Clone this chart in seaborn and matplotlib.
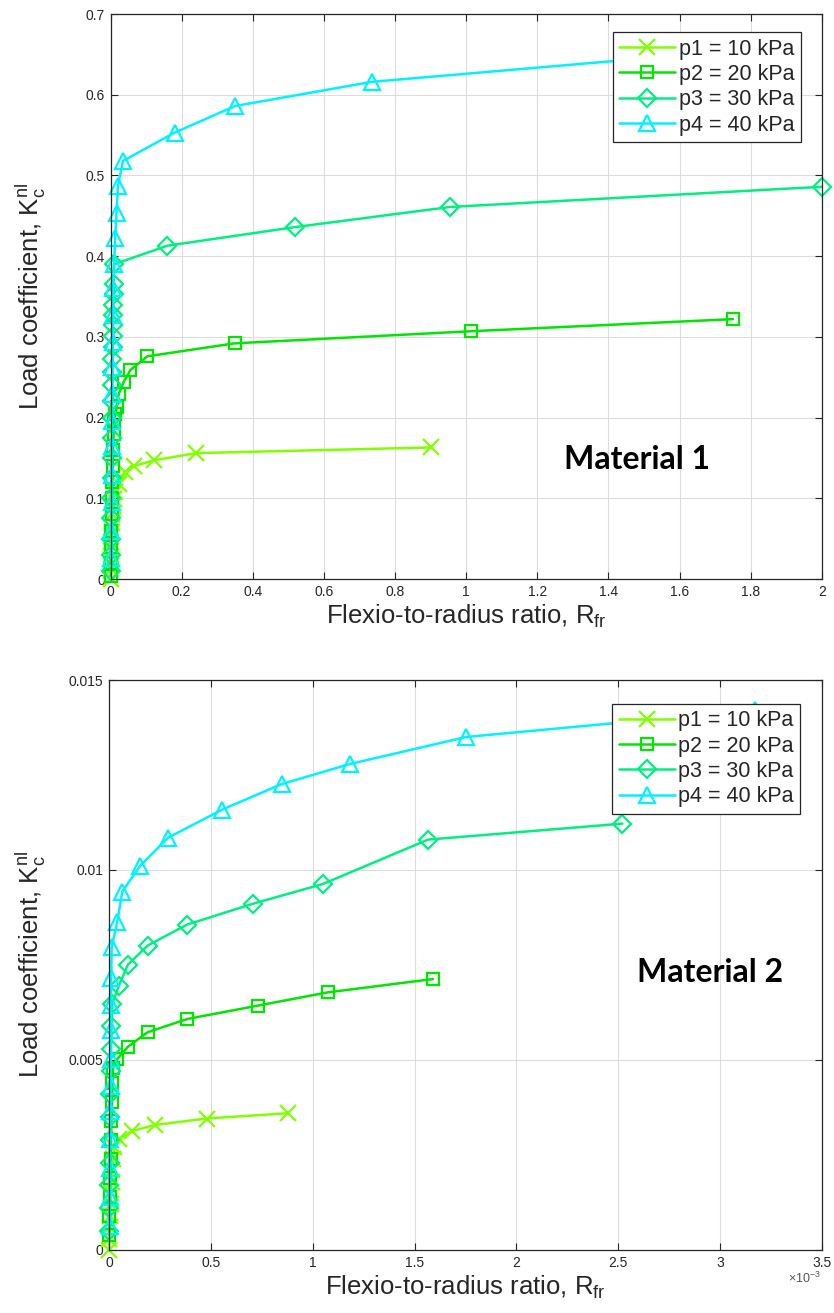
import matplotlib
matplotlib.use("Agg")
import matplotlib.pyplot as plt
import seaborn as sns
from matplotlib.ticker import FuncFormatter

sns.set_theme(style="whitegrid")
plt.rcParams["font.family"] = ["Liberation Sans", "DejaVu Sans"]
plt.rcParams["mathtext.fontset"] = "custom"
plt.rcParams["mathtext.rm"] = "Liberation Sans"
plt.rcParams["mathtext.it"] = "Liberation Sans"

labels = ["p1 = 10 kPa", "p2 = 20 kPa", "p3 = 30 kPa", "p4 = 40 kPa"]
colors = ["#80FF00", "#00E600", "#00F080", "#00F2FF"]
markers = ["x", "s", "D", "^"]

# ---- Material 1 ----
m1_p1_x = [0.0, 0.0005, 0.001, 0.0015, 0.002, 0.003, 0.004, 0.005, 0.007, 0.009, 0.013,
           0.024, 0.042, 0.066, 0.121, 0.240, 0.900]
m1_p1_y = [0.0, 0.012, 0.023, 0.035, 0.046, 0.058, 0.069, 0.080, 0.090, 0.099, 0.108,
           0.118, 0.132, 0.140, 0.147, 0.156, 0.163]
m1_p2_x = [0.001, 0.0015, 0.002, 0.0025, 0.003, 0.004, 0.005, 0.006, 0.007, 0.009, 0.011, 0.014,
           0.017, 0.023, 0.037, 0.056, 0.104, 0.349, 1.013, 1.750]
m1_p2_y = [0.004, 0.020, 0.040, 0.060, 0.080, 0.100, 0.120, 0.140, 0.160, 0.180, 0.197, 0.205,
           0.213, 0.229, 0.244, 0.259, 0.276, 0.292, 0.307, 0.322]
m1_p3_x = [0.001, 0.0013, 0.0016, 0.002, 0.0024, 0.0028, 0.0032, 0.0036, 0.004, 0.0044, 0.0048,
           0.0052, 0.0056, 0.006, 0.0065, 0.007, 0.0075, 0.008, 0.0085, 0.009, 0.010,
           0.160, 0.518, 0.955, 2.000]
m1_p3_y = [0.010, 0.030, 0.050, 0.075, 0.100, 0.125, 0.150, 0.175, 0.200, 0.220, 0.240,
           0.256, 0.272, 0.287, 0.301, 0.315, 0.327, 0.339, 0.353, 0.366, 0.390,
           0.413, 0.436, 0.461, 0.486]
m1_p4_x = [0.002, 0.0025, 0.003, 0.0035, 0.004, 0.0045, 0.005, 0.0055, 0.006, 0.007, 0.008,
           0.010, 0.013, 0.017, 0.021, 0.035, 0.180, 0.350, 0.735, 1.500]
m1_p4_y = [0.026, 0.060, 0.096, 0.129, 0.165, 0.196, 0.229, 0.263, 0.294, 0.327, 0.361,
           0.390, 0.422, 0.454, 0.487, 0.518, 0.553, 0.586, 0.616, 0.645]

# ---- Material 2 (x in units of 1e-3) ----
m2_p1_x = [0.0, 0.002, 0.004, 0.006, 0.008, 0.010, 0.013, 0.016, 0.020, 0.025,
           0.048, 0.113, 0.226, 0.480, 0.880]
m2_p1_y = [0.0, 0.0003, 0.0006, 0.0009, 0.0012, 0.0015, 0.0018, 0.0021, 0.0024, 0.0027,
           0.00291, 0.00313, 0.00329, 0.00346, 0.00360]
m2_p2_x = [0.0, 0.002, 0.004, 0.006, 0.008, 0.010, 0.012, 0.014, 0.017, 0.020,
           0.041, 0.093, 0.189, 0.385, 0.730, 1.074, 1.590]
m2_p2_y = [0.0004, 0.0009, 0.0014, 0.0019, 0.0024, 0.0029, 0.0034, 0.0039, 0.0044, 0.0048,
           0.00503, 0.00535, 0.00573, 0.00608, 0.00643, 0.00678, 0.00713]
m2_p3_x = [0.0, 0.001, 0.002, 0.003, 0.004, 0.005, 0.006, 0.008, 0.010, 0.012,
           0.016, 0.049, 0.093, 0.189, 0.382, 0.705, 1.049, 1.566, 2.520]
m2_p3_y = [0.0005, 0.0011, 0.0017, 0.0023, 0.0029, 0.0035, 0.0041, 0.0047, 0.0053, 0.0059,
           0.00647, 0.00696, 0.00751, 0.00801, 0.00856, 0.00911, 0.00963, 0.01080, 0.01122]
m2_p4_x = [0.003, 0.004, 0.005, 0.006, 0.007, 0.008, 0.009, 0.010, 0.010, 0.011,
           0.013, 0.040, 0.065, 0.153, 0.290, 0.556, 0.847, 1.183, 1.753, 3.170]
m2_p4_y = [0.00063, 0.00140, 0.00215, 0.00291, 0.00367, 0.00432, 0.00503, 0.00579, 0.00645, 0.00715,
           0.00797, 0.00862, 0.00943, 0.01011, 0.01085, 0.01159, 0.01226, 0.01279, 0.01350, 0.01421]

m1 = [(m1_p1_x, m1_p1_y), (m1_p2_x, m1_p2_y), (m1_p3_x, m1_p3_y), (m1_p4_x, m1_p4_y)]
m2 = [(m2_p1_x, m2_p1_y), (m2_p2_x, m2_p2_y), (m2_p3_x, m2_p3_y), (m2_p4_x, m2_p4_y)]

fig = plt.figure(figsize=(8.34, 13.13), dpi=100)
ax1 = fig.add_axes([0.1325, 0.559, 0.853, 0.4303])
ax2 = fig.add_axes([0.1307, 0.048, 0.855, 0.4341])

msizes = {"x": 11, "s": 9, "D": 9, "^": 11}


def draw(ax, series, xlim, ylim, xticks, yticks, legend_anchor, material, mat_pos, ylab_x):
    for (x, y), lab, c, mk in zip(series, labels, colors, markers):
        sns.lineplot(x=x, y=y, ax=ax, color=c, marker=mk, markersize=msizes[mk],
                     markerfacecolor="none", markeredgecolor=c, markeredgewidth=1.6,
                     lw=1.8, sort=False, estimator=None, label=lab, clip_on=False)
    ax.set_xlim(*xlim)
    ax.set_ylim(*ylim)
    ax.set_xticks(xticks)
    ax.set_yticks(yticks)
    fmt = FuncFormatter(lambda v, p: "%g" % round(v, 6))
    ax.xaxis.set_major_formatter(fmt)
    ax.yaxis.set_major_formatter(fmt)
    ax.tick_params(direction="in", top=True, right=True, bottom=True, left=True,
                   length=5, width=0.8, color="#262626", labelsize=10,
                   labelcolor="#262626", pad=4)
    ax.set_facecolor("white")
    ax.grid(True, color="#dddddd", lw=0.8)
    for s in ax.spines.values():
        s.set_color("#262626")
        s.set_linewidth(0.9)
    ax.set_xlabel(r"Flexio-to-radius ratio, $\mathregular{R_{fr}}$", fontsize=18.5,
                  color="#262626", labelpad=3)
    ax.set_ylabel(r"Load coefficient, $\mathregular{K_c^{nl}}$", fontsize=18.5, color="#262626")
    ax.yaxis.set_label_coords(ylab_x, 0.5)
    leg = ax.legend(loc="upper right", bbox_to_anchor=legend_anchor, fontsize=15.5,
                    handlelength=2.6, handletextpad=0.15, labelspacing=0.2,
                    borderpad=0.3, borderaxespad=0, fancybox=False, framealpha=1,
                    edgecolor="#262626", numpoints=1)
    leg.get_frame().set_linewidth(0.9)
    leg.set_zorder(10)
    ax.text(mat_pos[0], mat_pos[1], material, fontsize=23, fontweight="bold",
            family="Lato", ha="center", va="center", color="black")


draw(ax1, m1, (0, 2), (0, 0.7), [0, 0.2, 0.4, 0.6, 0.8, 1, 1.2, 1.4, 1.6, 1.8, 2],
     [0, 0.1, 0.2, 0.3, 0.4, 0.5, 0.6, 0.7], (0.970, 0.968), "Material 1", (1.48, 0.148), -0.088)
draw(ax2, m2, (0, 3.5), (0, 0.015), [0, 0.5, 1, 1.5, 2, 2.5, 3, 3.5],
     [0, 0.005, 0.01, 0.015], (0.969, 0.958), "Material 2", (2.95, 0.0073), -0.086)
ax2.text(0.952, -0.05, r"$\times\mathregular{10^{-3}}$", transform=ax2.transAxes,
         fontsize=9, color="#555555", ha="left", va="center")

fig.savefig("out.png", dpi=100)
